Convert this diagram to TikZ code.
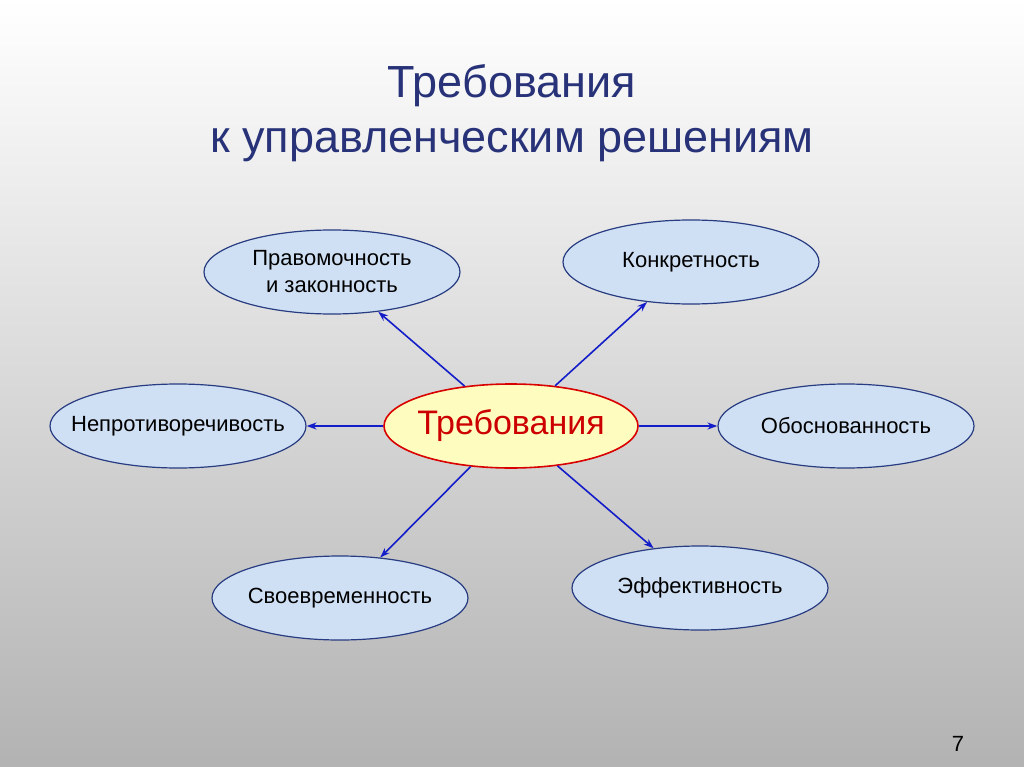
\documentclass[tikz,border=0pt]{standalone}
\usepackage{fontspec}
\setmainfont{Liberation Sans}
\usetikzlibrary{shapes.geometric,arrows.meta}
\definecolor{titleblue}{RGB}{40,50,120}
\definecolor{ovalfill}{RGB}{208,224,244}
\definecolor{ovaldraw}{RGB}{40,60,130}
\definecolor{arrowblue}{RGB}{20,30,200}
\begin{document}
\begin{tikzpicture}[x=1pt,y=-1pt,
    req/.style={ellipse, draw=ovaldraw, fill=ovalfill, line width=1.2pt, minimum width=256pt, minimum height=84pt, align=center, font=\fontsize{22}{27}\selectfont, inner xsep=-30pt, inner ysep=0pt},
    hub/.style={ellipse, draw=red!85!black, fill=yellow!25, line width=1.6pt, minimum width=254pt, minimum height=84pt, text=red!80!black, font=\fontsize{34}{38}\selectfont, inner xsep=-20pt, inner ysep=0pt},
    link/.style={arrowblue, line width=1.6pt, -{Stealth[length=10pt,width=7pt]}}
  ]
  \shade[top color=white, bottom color=black!30] (0,0) rectangle (1024,767);
  \node[text=titleblue, align=center, font=\fontsize{45}{55}\selectfont] (title) at (512,113) {Требования\\к управленческим решениям};
  \node[hub] (center) at (511,426) {Требования};
  \node[req] (legal) at (332,272) {Правомочность\\и законность};
  \node[req] (concrete) at (691,262) {Конкретность};
  \node[req] (consistent) at (178,426) {Непротиворечивость};
  \node[req] (grounded) at (846,426) {Обоснованность};
  \node[req] (timely) at (340,598) {Своевременность};
  \node[req] (effective) at (700,588) {Эффективность};
  \node[font=\fontsize{22}{26}\selectfont] (page) at (958,744) {7};
  \draw[link] (center) -- (legal);
  \draw[link] (center) -- (concrete);
  \draw[link] (center) -- (consistent);
  \draw[link] (center) -- (grounded);
  \draw[link] (center) -- (timely);
  \draw[link] (center) -- (effective);
\end{tikzpicture}
\end{document}
